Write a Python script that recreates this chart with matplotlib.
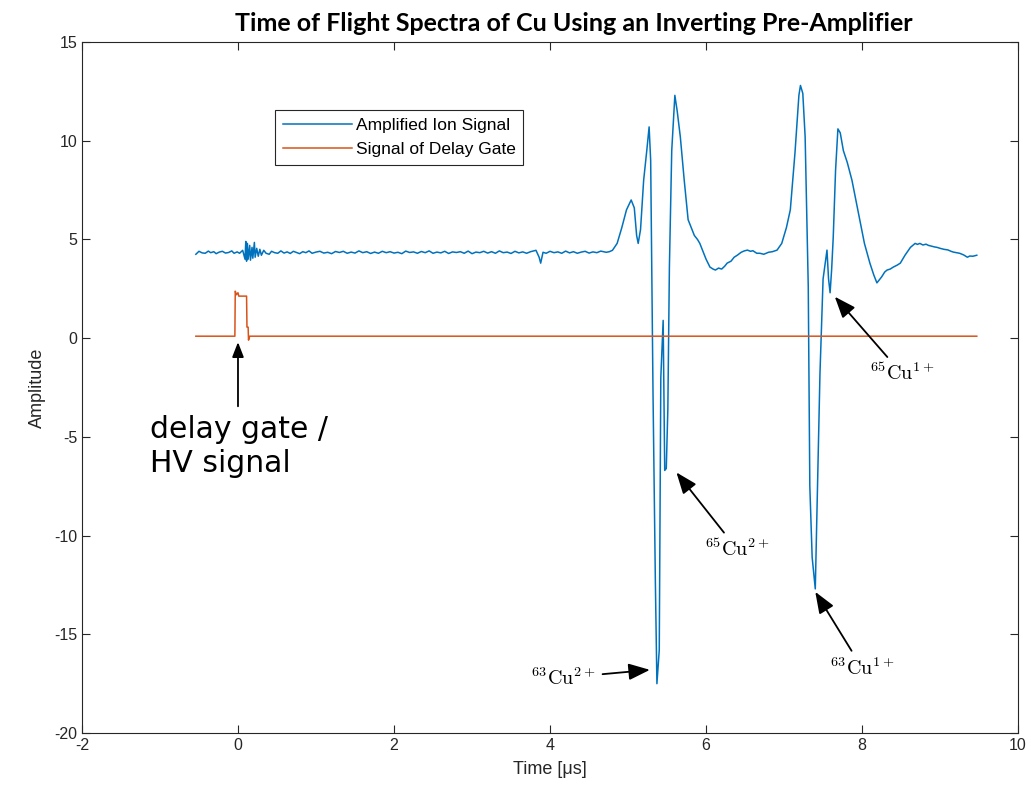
import numpy as np
import matplotlib
matplotlib.use('agg')
import matplotlib.pyplot as plt

plt.rcParams['font.family'] = ['Liberation Sans', 'DejaVu Sans']
plt.rcParams['mathtext.fontset'] = 'cm'
plt.rcParams['axes.unicode_minus'] = False

#---------------- data -----------------------------------------

# amplified ion signal (time in us, amplitude)
ion_t = [-0.54, -0.50, -0.46, -0.42, -0.38, -0.35, -0.31, -0.28, -0.24, -0.20,
         -0.16, -0.12, -0.08, -0.05, -0.01, 0.02, 0.06,
         0.09, 0.10, 0.11, 0.12, 0.13, 0.15, 0.16, 0.18, 0.19, 0.21,
         0.22, 0.24, 0.26, 0.28, 0.30, 0.33, 0.36, 0.40, 0.43, 0.47,
         0.51, 0.55, 0.59, 0.63, 0.67, 0.71, 0.75, 0.79, 0.83, 0.87,
         0.91, 0.95, 1.00, 1.05, 1.10, 1.15, 1.20, 1.25, 1.30, 1.35,
         1.40, 1.45, 1.50, 1.55, 1.60, 1.65, 1.70, 1.75, 1.80, 1.85,
         1.90, 1.95, 2.00, 2.05, 2.10, 2.15, 2.20, 2.25, 2.30, 2.35,
         2.40, 2.45, 2.50, 2.55, 2.60, 2.65, 2.70, 2.75, 2.80, 2.85,
         2.90, 2.95, 3.00, 3.05, 3.10, 3.15, 3.20, 3.25, 3.30, 3.35,
         3.40, 3.45, 3.50, 3.55, 3.60, 3.65, 3.70, 3.75, 3.82, 3.86,
         3.88, 3.91, 3.95, 4.00, 4.05, 4.10, 4.15, 4.20, 4.25, 4.30,
         4.35, 4.40, 4.45, 4.50, 4.55, 4.60, 4.65, 4.72, 4.76, 4.80,
         4.86, 4.92, 4.98, 5.04, 5.08, 5.11, 5.13,
         5.16, 5.20, 5.24, 5.27, 5.29, 5.32, 5.35, 5.37, 5.40, 5.42,
         5.45, 5.46, 5.47, 5.49, 5.51, 5.53, 5.56, 5.60, 5.63, 5.67,
         5.72, 5.77, 5.81, 5.85, 5.89, 5.92, 5.96, 6.00, 6.05, 6.09,
         6.12, 6.16, 6.20, 6.24, 6.27, 6.32, 6.36, 6.40, 6.45, 6.49,
         6.53, 6.57, 6.60, 6.65, 6.69, 6.74, 6.80, 6.85, 6.91, 6.97,
         7.03, 7.08, 7.14, 7.19,
         7.21, 7.24, 7.27, 7.31, 7.33, 7.36, 7.40, 7.42, 7.44, 7.46,
         7.50, 7.55, 7.57, 7.59, 7.61, 7.63, 7.66, 7.69, 7.72, 7.76,
         7.81, 7.87, 7.92, 7.97, 8.03, 8.10, 8.15, 8.19, 8.22, 8.25,
         8.29, 8.32, 8.36, 8.40, 8.45, 8.49, 8.55, 8.62, 8.68, 8.71,
         8.74, 8.78, 8.82, 8.85, 8.89, 8.93, 8.96, 9.00, 9.05, 9.10,
         9.14, 9.17, 9.21, 9.25, 9.30, 9.35, 9.38, 9.42, 9.47]
ion_y = [4.25, 4.40, 4.32, 4.30, 4.41, 4.33, 4.38, 4.28, 4.36, 4.40,
         4.31, 4.34, 4.42, 4.30, 4.37, 4.30, 4.45,
         4.00, 4.90, 3.90, 4.80, 4.00, 4.70, 3.95, 4.60, 4.05, 4.85,
         4.10, 4.55, 4.15, 4.50, 4.20, 4.45, 4.30, 4.25, 4.40, 4.33,
         4.30, 4.42, 4.31, 4.37, 4.29, 4.40, 4.34, 4.28, 4.38, 4.33,
         4.42, 4.30, 4.36, 4.40, 4.31, 4.35, 4.28, 4.39, 4.34, 4.40,
         4.30, 4.36, 4.31, 4.42, 4.33, 4.38, 4.29, 4.36, 4.30, 4.40,
         4.33, 4.38, 4.31, 4.35, 4.28, 4.41, 4.34, 4.37, 4.30, 4.39,
         4.33, 4.42, 4.30, 4.36, 4.32, 4.40, 4.29, 4.37, 4.34, 4.38,
         4.30, 4.41, 4.28, 4.36, 4.33, 4.40, 4.31, 4.38, 4.30, 4.42,
         4.33, 4.36, 4.29, 4.40, 4.32, 4.37, 4.30, 4.38, 4.45, 4.10,
         3.80, 4.35, 4.30, 4.40, 4.33, 4.37, 4.30, 4.41, 4.32, 4.38,
         4.30, 4.36, 4.40, 4.31, 4.37, 4.33, 4.41, 4.35, 4.38, 4.45,
         4.80, 5.60, 6.50, 7.00, 6.60, 5.20, 4.80,
         5.50, 8.00, 9.50, 10.70, 9.00, -2.80, -12.30, -17.50, -15.80, -2.00,
         0.90, -3.10, -6.70, -6.60, -3.60, 3.60, 9.50, 12.30, 11.50, 10.20,
         8.00, 6.00, 5.60, 5.20, 5.00, 4.80, 4.40, 4.00, 3.60, 3.50,
         3.45, 3.55, 3.50, 3.65, 3.80, 3.90, 4.10, 4.20, 4.35, 4.42,
         4.46, 4.40, 4.43, 4.30, 4.30, 4.25, 4.35, 4.38, 4.46, 4.80,
         5.60, 6.50, 9.40, 12.30,
         12.80, 12.40, 10.20, 2.60, -7.50, -11.10, -12.70, -9.10, -5.30, -1.80,
         3.00, 4.46, 3.00, 2.30, 3.50, 5.10, 8.50, 10.60, 10.40, 9.50,
         8.90, 8.00, 7.00, 6.00, 4.80, 3.80, 3.20, 2.80, 2.95, 3.10,
         3.35, 3.45, 3.50, 3.60, 3.70, 3.80, 4.20, 4.60, 4.80, 4.75,
         4.80, 4.72, 4.76, 4.70, 4.66, 4.62, 4.60, 4.55, 4.50, 4.47,
         4.40, 4.36, 4.33, 4.30, 4.22, 4.10, 4.16, 4.15, 4.20]

# delay gate signal
gate_t = [-0.54, -0.04, -0.035, -0.02, 0.00, 0.01, 0.11, 0.115, 0.13, 0.135, 0.15, 9.47]
gate_y = [0.10, 0.10, 2.38, 2.20, 2.30, 2.13, 2.13, 0.56, 0.56, -0.10, 0.10, 0.10]

peak_labels = [r'$^{63}\mathrm{Cu}^{2+}$', r'$^{65}\mathrm{Cu}^{2+}$',
               r'$^{63}\mathrm{Cu}^{1+}$', r'$^{65}\mathrm{Cu}^{1+}$']
peak_tips = [(5.28, -16.8), (5.62, -6.8), (7.40, -12.85), (7.65, 2.1)]
label_pos = [(4.17, -17.2), (6.40, -10.7), (8.00, -16.7), (8.51, -1.8)]

#-------------- plotting

fig = plt.figure(figsize=(10.31, 8.05), dpi=100)
ax = fig.add_axes([0.0795, 0.0894, 0.908, 0.8584])

ax.plot(ion_t, ion_y, color='#0072BD', lw=1.1, label='Amplified Ion Signal')
ax.plot(gate_t, gate_y, color='#D95319', lw=1.1, label='Signal of Delay Gate')

ax.set_xlim(-2, 10)
ax.set_ylim(-20, 15)
ax.set_xticks(np.arange(-2, 11, 2))
ax.set_yticks(np.arange(-20, 16, 5))
ax.tick_params(direction='in', top=True, right=True, labelsize=11.5,
               colors='#262626', length=6, width=0.8)
for sp in ax.spines.values():
    sp.set_color('#262626')
    sp.set_linewidth(0.8)

ax.set_xlabel('Time [μs]', fontsize=13, color='#262626', labelpad=6)
ax.set_ylabel('Amplitude', fontsize=13, color='#262626', labelpad=6)
ax.set_title('Time of Flight Spectra of Cu Using an Inverting Pre-Amplifier',
             fontsize=18, fontweight='bold', family=['Lato', 'DejaVu Sans'],
             pad=8, x=0.525)

leg = ax.legend(loc='upper left', bbox_to_anchor=(0.206, 0.9016), fontsize=12.5,
                handlelength=4.0, handletextpad=0.2, borderpad=0.45,
                labelspacing=0.5, fancybox=False, framealpha=1,
                edgecolor='#262626', borderaxespad=0)
leg.get_frame().set_linewidth(0.8)

arrow = dict(arrowstyle='-|>,head_length=0.9,head_width=0.35', color='black',
             lw=1.3, shrinkA=3, shrinkB=0)
for lab, tip, pos in zip(peak_labels, peak_tips, label_pos):
    ax.annotate(lab, xy=tip, xytext=pos, fontsize=14.5, ha='center', va='center',
                arrowprops=arrow)

ax.text(-1.13, -5.5, 'delay gate /\nHV signal', fontsize=21.5,
        family=['DejaVu Sans'], ha='left', va='center', linespacing=1.2)
ax.annotate('', xy=(0.0, -0.2), xytext=(0.0, -3.45),
            arrowprops=dict(arrow, shrinkA=0))

plt.savefig('out.png', dpi=100)
plt.close('all')
